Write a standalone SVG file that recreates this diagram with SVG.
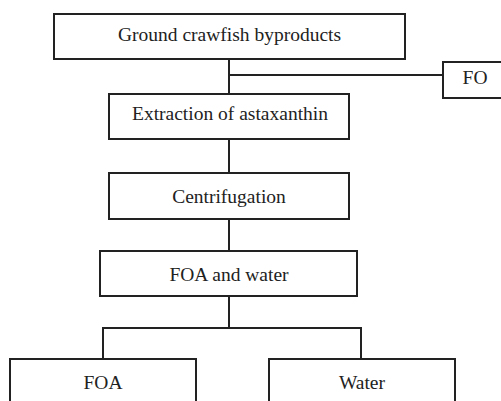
<svg xmlns="http://www.w3.org/2000/svg" width="501" height="401" viewBox="0 0 501 401">
<style>
.box{fill:#fff;stroke:#222;stroke-width:2}
.ln{fill:none;stroke:#222;stroke-width:2}
text{font-family:"Liberation Serif","Times New Roman",serif;font-size:19.5px;fill:#222;text-anchor:middle}
</style>
<rect width="501" height="401" fill="#fff"/>
<g id="connectors">
<line class="ln" x1="229" y1="59" x2="229" y2="94"/>
<line class="ln" x1="229" y1="75" x2="443" y2="75"/>
<line class="ln" x1="229" y1="139" x2="229" y2="173"/>
<line class="ln" x1="229" y1="219" x2="229" y2="251"/>
<line class="ln" x1="229" y1="296" x2="229" y2="328"/>
<polyline class="ln" points="103,359 103,328 361,328 361,359"/>
</g>
<g id="ground"><rect class="box" x="54" y="14" width="351" height="45"/><text x="229.5" y="41">Ground crawfish byproducts</text></g>
<g id="fo"><rect class="box" x="443" y="62" width="70" height="36"/><text x="475" y="84">FO</text></g>
<g id="extraction"><rect class="box" x="109" y="94" width="240" height="45"/><text x="230" y="120">Extraction of astaxanthin</text></g>
<g id="centrifugation"><rect class="box" x="109" y="173" width="240" height="46"/><text x="229" y="203">Centrifugation</text></g>
<g id="foawater"><rect class="box" x="100" y="251" width="257" height="45"/><text x="229" y="281">FOA and water</text></g>
<g id="foa"><rect class="box" x="10" y="359" width="186" height="60"/><text x="103" y="389">FOA</text></g>
<g id="water"><rect class="box" x="269" y="359" width="186" height="60"/><text x="362" y="389">Water</text></g>
</svg>
